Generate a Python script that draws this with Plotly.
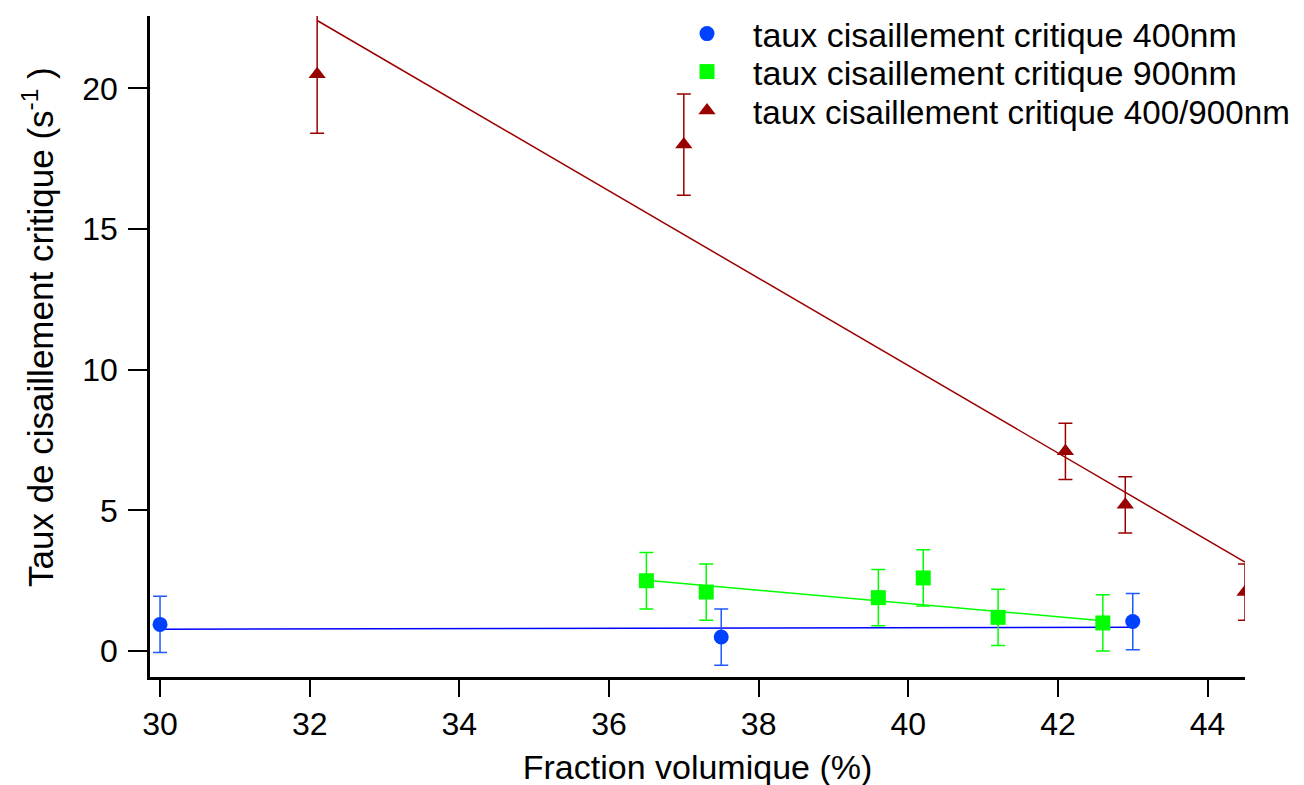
import plotly.graph_objects as go

# Data
x400 = [30.0, 37.5, 43.0]
y400 = [0.95, 0.5, 1.05]
e400 = [1.0, 1.0, 1.0]

x900 = [36.5, 37.3, 39.6, 40.2, 41.2, 42.6]
y900 = [2.5, 2.1, 1.9, 2.6, 1.2, 1.0]
e900 = [1.0, 1.0, 1.0, 1.0, 1.0, 1.0]

xmix = [32.1, 37.0, 42.1, 42.9, 44.5]
ymix = [20.5, 18.0, 7.1, 5.2, 2.1]
emix = [2.1, 1.8, 1.0, 1.0, 1.0]

# Linear fit lines (end points)
fit400_x = [30.0, 43.0]
fit400_y = [0.78, 0.85]
fit900_x = [36.5, 42.6]
fit900_y = [2.52, 1.08]
fitmix_x = [32.1, 44.5]
fitmix_y = [22.41, 3.16]

xticks = [30, 32, 34, 36, 38, 40, 42, 44]
yticks = [0, 5, 10, 15, 20]

names = ["taux cisaillement critique 400nm",
         "taux cisaillement critique 900nm",
         "taux cisaillement critique 400/900nm"]
x_title = "Fraction volumique (%)"
y_title = "Taux de cisaillement critique (s<sup>-1</sup> )"

BLUE = "rgb(0,64,255)"
BLUE_LINE = "rgb(0,0,255)"
BLUE_ERR = "rgb(30,90,255)"
GREEN = "rgb(0,255,0)"
RED = "rgb(153,0,0)"

FONT = "Liberation Sans, Arial, sans-serif"

fig = go.Figure()

# fit lines
fig.add_trace(go.Scatter(x=fit400_x, y=fit400_y, mode="lines",
                         line=dict(color=BLUE_LINE, width=1.5), showlegend=False, hoverinfo="skip"))
fig.add_trace(go.Scatter(x=fit900_x, y=fit900_y, mode="lines",
                         line=dict(color=GREEN, width=1.5), showlegend=False, hoverinfo="skip"))
fig.add_trace(go.Scatter(x=fitmix_x, y=fitmix_y, mode="lines",
                         line=dict(color=RED, width=1.5), showlegend=False, hoverinfo="skip"))

fig.add_trace(go.Scatter(
    x=x400, y=y400, mode="markers", name=names[0], legend="legend",
    marker=dict(symbol="circle", size=15, color=BLUE),
    error_y=dict(type="data", array=e400, visible=True, color=BLUE_ERR, thickness=1.5, width=7)))
fig.add_trace(go.Scatter(
    x=x900, y=y900, mode="markers", name=names[1], legend="legend2",
    marker=dict(symbol="square", size=15, color=GREEN),
    error_y=dict(type="data", array=e900, visible=True, color=GREEN, thickness=1.5, width=7)))
fig.add_trace(go.Scatter(
    x=xmix, y=ymix, mode="markers", name=names[2], legend="legend3",
    marker=dict(symbol="triangle-up", size=15, color=RED),
    error_y=dict(type="data", array=emix, visible=True, color=RED, thickness=1.5, width=7)))

W, H = 1304, 785
OFF = 8  # page body margin
L, R, T, B = 150, 1245, 16, 677  # target plot box in screen pixels

def px_x(p):
    return (p - L) / (R - L)

def px_y(p):
    return (B - p) / (B - T)

def leg(ycenter, size):
    return dict(x=px_x(661), y=px_y(ycenter),
                xanchor="left", yanchor="middle",
                font=dict(size=size, family=FONT, color="black"),
                bgcolor="rgba(0,0,0,0)", itemwidth=82)

fig.update_layout(
    width=W, height=H,
    margin=dict(l=L - OFF, r=W + OFF - R, t=T - OFF, b=H + OFF - B, autoexpand=False),
    paper_bgcolor="white", plot_bgcolor="white",
    font=dict(family=FONT, size=32, color="black"),
    legend=leg(34, 34), legend2=leg(72, 34), legend3=leg(111, 33.2),
    xaxis=dict(range=[29.866, 44.5], tickvals=xticks, ticks="outside", ticklen=17,
               tickwidth=2, tickcolor="black", showline=True, linewidth=2.5,
               linecolor="black", showgrid=False, zeroline=False,
               ticklabelstandoff=0, tickfont=dict(size=32), automargin=False,
               title=dict(text=x_title, standoff=15, font=dict(size=34))),
    yaxis=dict(range=[-0.92, 22.57], tickvals=yticks, ticks="outside", ticklen=19,
               tickwidth=2, tickcolor="black", showline=True, linewidth=2.5,
               linecolor="black", showgrid=False, zeroline=False,
               ticklabelstandoff=4, tickfont=dict(size=32), automargin=False),
    annotations=[dict(text=y_title, xref="paper", yref="paper",
                      x=px_x(38), y=px_y(327), xanchor="center", yanchor="middle",
                      textangle=-90, showarrow=False,
                      font=dict(size=35, family=FONT, color="black"))],
)

fig.write_html("out.html")
